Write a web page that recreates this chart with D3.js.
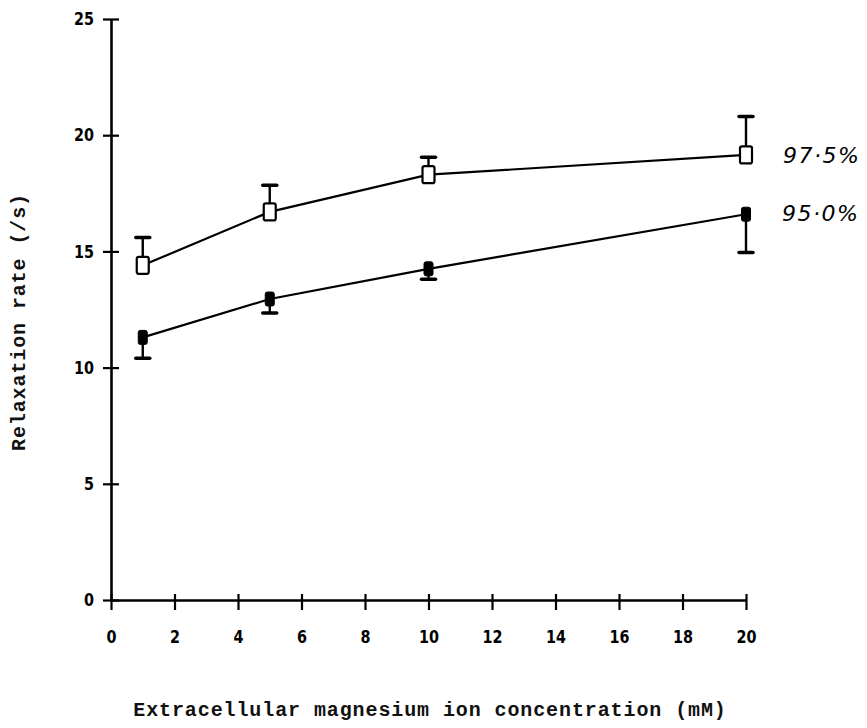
<!DOCTYPE html>
<html>
<head>
<meta charset="utf-8">
<script src="https://cdn.jsdelivr.net/npm/d3@7"></script>
<style>
  html, body { margin: 0; padding: 0; background: #fff; }
  svg { display: block; }
  .tick text { font-family: "DejaVu Sans", "Liberation Sans", sans-serif; font-weight: bold; font-size: 18px; fill: #000; }
  .title { font-family: "Liberation Mono", "DejaVu Sans Mono", monospace; font-weight: bold; font-size: 20px; fill: #111; }
  .series-label { font-family: "DejaVu Sans", "Liberation Sans", sans-serif; font-style: italic; font-size: 22px; fill: #000; }
</style>
</head>
<body>
<svg id="chart" width="867" height="728"></svg>
<script>
// Magnesium concentrations (mM)
const concentrations = [1, 5, 10, 20];
// Relaxation rate (/s), 97.5% series (open squares) with upper error bound
const rate975 = [14.4, 16.7, 18.3, 19.15];
const upper975 = [15.6, 17.85, 19.05, 20.8];
// Relaxation rate (/s), 95.0% series (filled squares) with lower error bound
const rate950 = [11.3, 12.95, 14.25, 16.6];
const lower950 = [10.4, 12.35, 13.8, 14.95];
// Axis ticks
const xTicks = [0, 2, 4, 6, 8, 10, 12, 14, 16, 18, 20];
const yTicks = [0, 5, 10, 15, 20, 25];
const seriesNames = ["97·5%", "95·0%"];

const svg = d3.select("#chart");
const x = d3.scaleLinear().domain([0, 20]).range([111, 746]);
const y = d3.scaleLinear().domain([0, 25]).range([600, 19]);

// Narrow, tall digits for the tick labels
function condense(sel) {
  sel.each(function () {
    const n = this.textContent.length;
    d3.select(this).attr("textLength", n * 10).attr("lengthAdjust", "spacingAndGlyphs");
  });
}

// Y axis with ticks crossing the axis line
const gy = svg.append("g").attr("transform", `translate(${x(0)},0)`)
  .call(d3.axisLeft(y).tickValues(yTicks).tickSizeInner(8).tickSizeOuter(0).tickPadding(10).tickFormat(d3.format("d")));
gy.select(".domain").attr("stroke", "#000").attr("stroke-width", 2.6);
gy.selectAll(".tick line").attr("x1", 8).attr("x2", -8).attr("stroke", "#000").attr("stroke-width", 2.2);
gy.selectAll(".tick text").attr("x", -17).call(condense);

// X axis with ticks crossing the axis line
const gx = svg.append("g").attr("transform", `translate(0,${y(0)})`)
  .call(d3.axisBottom(x).tickValues(xTicks).tickSizeInner(8).tickSizeOuter(0).tickPadding(14).tickFormat(d3.format("d")));
gx.select(".domain").attr("stroke", "#000").attr("stroke-width", 2.6);
gx.selectAll(".tick line").attr("y1", -6).attr("y2", 10).attr("stroke", "#000").attr("stroke-width", 2.2);
gx.selectAll(".tick text").attr("y", 30).call(condense);

// Axis titles
svg.append("text").attr("class", "title")
  .attr("x", 430).attr("y", 716).attr("text-anchor", "middle")
  .style("letter-spacing", "0.9px")
  .text("Extracellular magnesium ion concentration (mM)");
svg.append("text").attr("class", "title")
  .attr("transform", "translate(25,322) rotate(-90)")
  .attr("text-anchor", "middle")
  .style("letter-spacing", "0.9px")
  .text("Relaxation rate (/s)");

const line = d3.line().x(d => x(d[0])).y(d => y(d[1]));

function drawSeries(values, bounds, filled) {
  const pts = concentrations.map((c, i) => [c, values[i]]);
  svg.append("path").datum(pts).attr("d", line)
    .attr("fill", "none").attr("stroke", "#000").attr("stroke-width", 2.2);

  const g = svg.append("g");
  concentrations.forEach((c, i) => {
    const cx = x(c), cy = y(values[i]), by = y(bounds[i]);
    g.append("line").attr("x1", cx).attr("x2", cx).attr("y1", cy).attr("y2", by)
      .attr("stroke", "#000").attr("stroke-width", 2.4);
    g.append("line").attr("x1", cx - 7).attr("x2", cx + 7).attr("y1", by).attr("y2", by)
      .attr("stroke", "#000").attr("stroke-width", 3.5).attr("stroke-linecap", "round");
    const w = filled ? 9 : 12, h = filled ? 14 : 17;
    g.append("rect").attr("x", cx - w / 2).attr("y", cy - h / 2)
      .attr("width", w).attr("height", h).attr("rx", 2)
      .attr("fill", filled ? "#000" : "#fff")
      .attr("stroke", "#000").attr("stroke-width", filled ? 1 : 2.2);
  });
}

drawSeries(rate975, upper975, false);
drawSeries(rate950, lower950, true);

// Series labels at the right end of each curve
svg.append("text").attr("class", "series-label").attr("x", 783).attr("y", 163)
  .style("letter-spacing", "1.5px").text(seriesNames[0]);
svg.append("text").attr("class", "series-label").attr("x", 782).attr("y", 221)
  .style("letter-spacing", "1.5px").text(seriesNames[1]);
</script>
</body>
</html>
